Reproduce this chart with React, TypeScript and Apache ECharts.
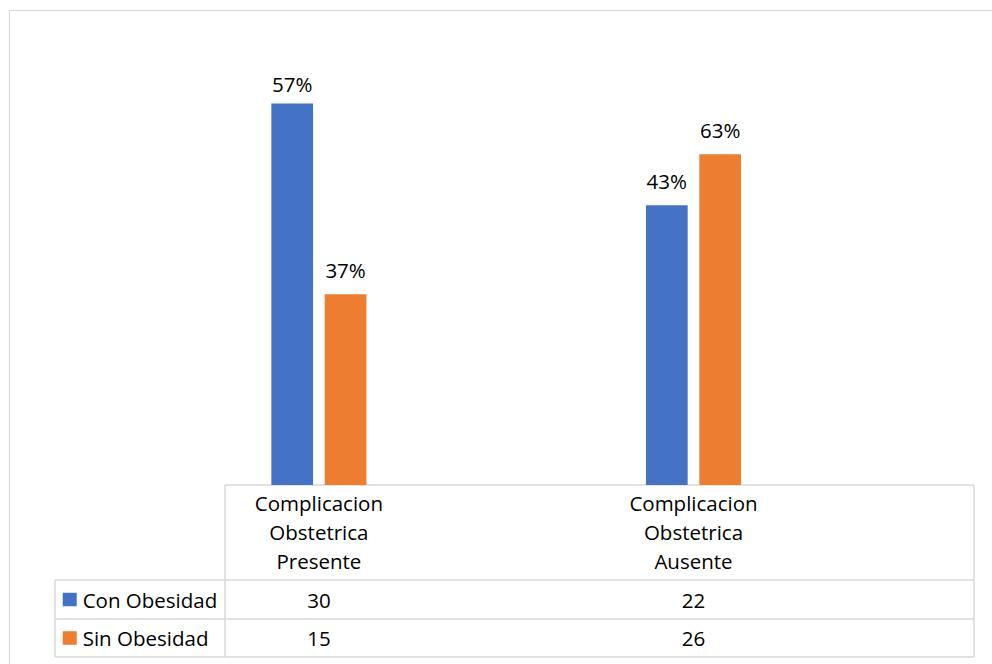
import React, { useEffect, useRef } from "react";
import * as echarts from "echarts";

const categories = [
  "Complicacion\nObstetrica\nPresente",
  "Complicacion\nObstetrica\nAusente",
];
const seriesNames = ["Con Obesidad", "Sin Obesidad"];
const conObesidad = [30, 22];
const sinObesidad = [15, 26];
const conObesidadPct = ["57%", "43%"];
const sinObesidadPct = ["37%", "63%"];
const colors = ["#4472C4", "#ED7D31"];

const FONT = "'Open Sans', 'Noto Sans', sans-serif";
const FS = 20.5;
const LINE = "#d9d9d9";

export default function App() {
  const ref = useRef<HTMLDivElement>(null);

  useEffect(() => {
    if (!ref.current) return;
    const chart = echarts.init(ref.current, undefined, { renderer: "svg" });

    const values = [conObesidad, sinObesidad];
    const pcts = [conObesidadPct, sinObesidadPct];

    const series = seriesNames.map((name, s) => ({
      name,
      type: "bar",
      barWidth: 41.7,
      barGap: "28%",
      itemStyle: { color: colors[s] },
      data: values[s].map((v, i) => ({
        value: v,
        label: { distance: s === 0 && i === 0 ? 9 : 14 },
      })),
      label: {
        show: true,
        position: "top",
        fontSize: FS,
        fontFamily: FONT,
        color: "#000",
        formatter: (p: any) => pcts[s][p.dataIndex],
      },
    }));

    chart.setOption({
      animation: false,
      grid: { left: 131.6, width: 749.2, top: 39.8, height: 445.2 },
      xAxis: {
        type: "category",
        data: categories,
        axisLine: { show: false },
        axisTick: { show: false },
        axisLabel: {
          interval: 0,
          margin: 4,
          fontSize: FS,
          fontFamily: FONT,
          color: "#000",
          lineHeight: 28.7,
        },
      },
      yAxis: { type: "value", min: 0, max: 35, show: false, splitLine: { show: false } },
      series,
    });

    const xs = categories.map((_, i) => chart.convertToPixel({ xAxisIndex: 0 }, i) as number);

    const tLeft = 225, tRight = 974, legLeft = 55;
    const yTop = 485, yRow1 = 580, yRow2 = 619, yBot = 657;
    const rowCenters = [599.5, 638];

    const lineEl = (x1: number, y1: number, x2: number, y2: number) => ({
      type: "line",
      shape: { x1, y1, x2, y2 },
      style: { stroke: LINE, lineWidth: 1.5 },
      silent: true,
    });

    const graphic: any[] = [
      {
        type: "rect",
        shape: { x: 9.5, y: 10.5, width: 1000, height: 700 },
        style: { fill: "none", stroke: LINE, lineWidth: 1.2 },
        z: -1,
        silent: true,
      },
      lineEl(tLeft, yTop, tRight, yTop),
      lineEl(legLeft, yRow1, tRight, yRow1),
      lineEl(legLeft, yRow2, tRight, yRow2),
      lineEl(legLeft, yBot, tRight, yBot),
      lineEl(tLeft, yTop, tLeft, yBot),
      lineEl(tRight, yTop, tRight, yBot),
      lineEl(legLeft, yRow1, legLeft, yBot),
    ];

    seriesNames.forEach((name, s) => {
      const cy = rowCenters[s];
      graphic.push({
        type: "rect",
        shape: { x: 62.7, y: cy - 6.8, width: 14, height: 13.5 },
        style: { fill: colors[s] },
        silent: true,
      });
      graphic.push({
        type: "text",
        x: 82.7,
        y: cy,
        style: {
          text: name,
          fontSize: FS,
          fontFamily: FONT,
          fill: "#000",
          align: "left",
          verticalAlign: "middle",
        },
        silent: true,
      });
      values[s].forEach((v, i) => {
        graphic.push({
          type: "text",
          x: xs[i],
          y: cy,
          style: {
            text: String(v),
            fontSize: FS,
            fontFamily: FONT,
            fill: "#000",
            align: "center",
            verticalAlign: "middle",
          },
          silent: true,
        });
      });
    });

    chart.setOption({ graphic });

    return () => chart.dispose();
  }, []);

  return (
    <div
      ref={ref}
      style={{ position: "fixed", left: 0, top: 0, width: 992, height: 664, background: "#fff" }}
    />
  );
}
